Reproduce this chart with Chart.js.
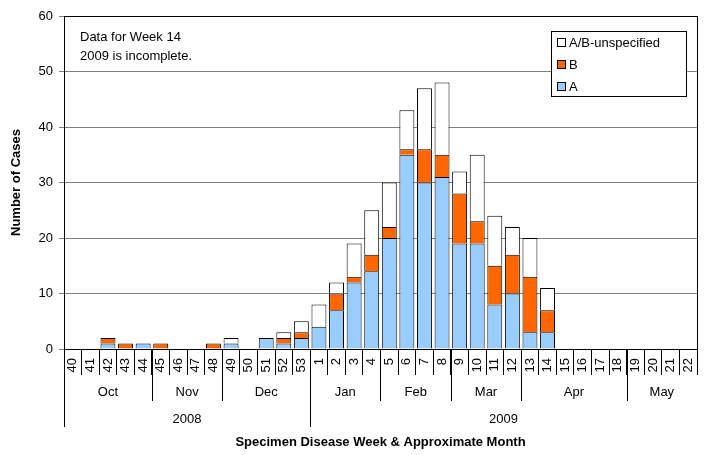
<!DOCTYPE html>
<html>
<head>
<meta charset="utf-8">
<script src="https://cdn.jsdelivr.net/npm/chart.js@4"></script>
<style>
  body { margin: 0; background: #fff; }
  #wrap { position: relative; width: 718px; height: 455px; }
</style>
</head>
<body>
<div id="wrap"><canvas id="casesChart"></canvas></div>
<script>
// Semanas epidemiológicas (eje X)
const weeks = ['40','41','42','43','44','45','46','47','48','49','50','51','52','53',
  '1','2','3','4','5','6','7','8','9','10','11','12','13','14','15','16','17','18','19','20','21','22'];

// Casos por tipo
const seriesA = [0,0,1,0,1,0,0,0,0,1,0,2,1,2, 4,7,12,14,20,35,30,31,19,19,8,10,3,3,0,0,0,0,0,0,0,0];
const seriesB = [0,0,1,1,0,1,0,0,1,0,0,0,1,1, 0,3,1,3,2,1,6,4,9,4,7,7,10,4,0,0,0,0,0,0,0,0];
const seriesU = [0,0,0,0,0,0,0,0,0,1,0,0,1,2, 4,2,6,8,8,7,11,13,4,12,9,5,7,4,0,0,0,0,0,0,0,0];

// Agrupaciones del eje X
const months = ['Oct','Nov','Dec','Jan','Feb','Mar','Apr','May'];
const monthSpans = [5,4,5,4,4,4,6,4];
const years = ['2008','2009'];
const yearSpans = [14,22];

const yTicks = [0,10,20,30,40,50,60];
const FONT = '"Liberation Sans", Arial, sans-serif';

// Dibuja meses, años, marco, leyenda y nota
const extras = {
  id: 'extras',
  afterDraw(c) {
    const ctx = c.ctx;
    const xs = c.scales.x;
    const area = c.chartArea;
    const half = (xs.getPixelForValue(1) - xs.getPixelForValue(0)) / 2;
    const edge = i => xs.getPixelForValue(i) - half;
    const base = area.bottom;

    ctx.save();
    ctx.strokeStyle = '#000';
    ctx.lineWidth = 1;
    ctx.fillStyle = '#000';
    ctx.textAlign = 'center';
    ctx.textBaseline = 'middle';
    ctx.font = '13px ' + FONT;

    // meses
    let idx = 0;
    months.forEach((m, k) => {
      const x0 = edge(idx), x1 = edge(idx + monthSpans[k]);
      if (idx > 0) {
        ctx.beginPath();
        ctx.moveTo(Math.round(x0) + 0.5, base);
        ctx.lineTo(Math.round(x0) + 0.5, base + 52);
        ctx.stroke();
      }
      ctx.fillText(m, (x0 + x1) / 2, base + 43);
      idx += monthSpans[k];
    });

    // años
    idx = 0;
    years.forEach((y, k) => {
      const x0 = edge(idx), x1 = edge(idx + yearSpans[k]);
      ctx.beginPath();
      ctx.moveTo(Math.round(x0) + 0.5, base);
      ctx.lineTo(Math.round(x0) + 0.5, base + 78);
      ctx.stroke();
      ctx.fillText(y, (x0 + x1) / 2, base + 70);
      idx += yearSpans[k];
    });

    // título del eje X
    ctx.font = 'bold 13px ' + FONT;
    ctx.fillText('Specimen Disease Week & Approximate Month', (area.left + area.right) / 2, base + 93);

    // marco del área de la gráfica
    ctx.strokeRect(Math.round(area.left) + 0.5, Math.round(area.top) + 0.5,
      Math.round(area.right - area.left), Math.round(area.bottom - area.top));

    // nota
    ctx.font = '13px ' + FONT;
    ctx.textAlign = 'left';
    ctx.fillText('Data for Week 14', 80, 37);
    ctx.fillText('2009 is incomplete.', 80, 56);

    // leyenda
    const lx = 551.5, ly = 31.5, lw = 135, lh = 65;
    ctx.fillStyle = '#fff';
    ctx.fillRect(lx, ly, lw, lh);
    ctx.strokeRect(lx, ly, lw, lh);
    const items = [['A/B-unspecified', '#ffffff'], ['B', '#ff6600'], ['A', '#99ccff']];
    items.forEach((it, k) => {
      const cy = 43 + k * 22;
      ctx.fillStyle = it[1];
      ctx.fillRect(557.5, cy - 4.5, 8, 8);
      ctx.strokeRect(557.5, cy - 4.5, 8, 8);
      ctx.fillStyle = '#000';
      ctx.fillText(it[0], 569, cy);
    });
    ctx.restore();
  }
};

const nz = arr => arr.map(v => v === 0 ? null : v);

new Chart(document.getElementById('casesChart'), {
  type: 'bar',
  data: {
    labels: weeks,
    datasets: [
      { label: 'A', data: nz(seriesA), backgroundColor: '#99ccff', borderColor: '#000', borderWidth: 1 },
      { label: 'B', data: nz(seriesB), backgroundColor: '#ff6600', borderColor: '#000', borderWidth: 1 },
      { label: 'A/B-unspecified', data: nz(seriesU), backgroundColor: '#ffffff', borderColor: '#000', borderWidth: 1 }
    ]
  },
  options: {
    responsive: true,
    maintainAspectRatio: false,
    animation: false,
    datasets: { bar: { categoryPercentage: 1, barPercentage: 0.85 } },
    layout: { padding: { top: 16, right: 21, left: 9, bottom: 0 } },
    plugins: { legend: { display: false }, tooltip: { enabled: false } },
    scales: {
      x: {
        stacked: true,
        grid: { offset: true, drawOnChartArea: false, color: '#000', tickLength: 26 },
        border: { color: '#000' },
        ticks: {
          color: '#000', font: { family: FONT, size: 13 },
          minRotation: 90, maxRotation: 90, autoSkip: false, padding: -17
        },
        afterFit(s) { s.height = 106; }
      },
      y: {
        stacked: true,
        min: 0, max: 60,
        afterBuildTicks(s) { s.ticks = yTicks.map(v => ({ value: v })); },
        grid: { color: '#808080', tickLength: 5 },
        border: { color: '#000' },
        ticks: { color: '#000', font: { family: FONT, size: 13 }, padding: 6 },
        title: { display: true, text: 'Number of Cases', color: '#000', font: { family: FONT, size: 13, weight: 'bold' }, padding: 0 },
        afterFit(s) { s.width = 55; }
      }
    }
  },
  plugins: [extras]
});
</script>
</body>
</html>
